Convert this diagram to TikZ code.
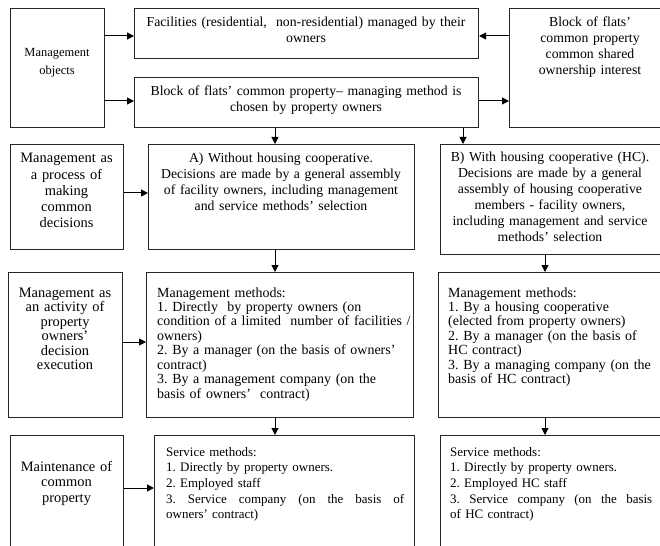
\documentclass[tikz,border=0pt]{standalone}
\usepackage{fontspec}
\setmainfont{Liberation Serif}
\usetikzlibrary{arrows.meta}
\frenchspacing
\begin{document}
\begin{tikzpicture}[x=1bp,y=-1bp,
  bx/.style={draw=black!85, line width=1.1bp, inner sep=0pt, anchor=north west},
  tx/.style={inner sep=0pt, font=\fontsize{13.8}{16}\selectfont},
  tc/.style={tx, align=center, anchor=base},
  tl/.style={tx, align=left, anchor=base west},
  arr/.style={line width=1bp, -{Triangle[length=7bp,width=7bp]}}]
\useasboundingbox (0,0) rectangle (660,546);
\clip (0,0) rectangle (660,546);
% boxes
\node[bx, minimum width=94bp, minimum height=119bp] (mo) at (10,8) {};
\node[bx, minimum width=344bp, minimum height=50bp] (fac) at (134,8) {};
\node[bx, minimum width=344bp, minimum height=50bp] (blk) at (134,77) {};
\node[bx, minimum width=162bp, minimum height=119bp] (rt) at (509,8) {};
\node[bx, minimum width=113bp, minimum height=105bp] (proc) at (10,144) {};
\node[bx, minimum width=266bp, minimum height=105bp] (A) at (148,144) {};
\node[bx, minimum width=221bp, minimum height=110bp] (B) at (440,144) {};
\node[bx, minimum width=114bp, minimum height=145bp] (act) at (8,272) {};
\node[bx, minimum width=267bp, minimum height=145bp] (mA) at (146,272) {};
\node[bx, minimum width=224bp, minimum height=145bp] (mB) at (438,272) {};
\node[bx, minimum width=113bp, minimum height=140bp] (mt) at (10,435) {};
\node[bx, minimum width=260bp, minimum height=140bp] (sA) at (154,435) {};
\node[bx, minimum width=222bp, minimum height=140bp] (sB) at (440,435) {};
% texts
\node[tc, text width=90bp, font=\fontsize{12.5}{18}\selectfont] (moT) at (57,57) {Management\\objects};
\node[tc, text width=340bp] (facT) at (306,27) {Facilities (residential,\ \ non-residential) managed by their\\owners};
\node[tc, text width=340bp] (blkT) at (306,96) {Block of flats’ common property– managing method is\\chosen by property owners};
\node[tc, text width=158bp] (rtT) at (590,27) {Block of flats’\\common property\\common shared\\ownership interest};
\node[tc, text width=112bp, font=\fontsize{14.5}{16.3}\selectfont] (procT) at (66.5,163) {Management as\\a process of\\making\\common\\decisions};
\node[tc, text width=264bp] (AT) at (281,163) {A) Without housing cooperative.\\Decisions are made by a general assembly\\of facility owners, including management\\and service methods’ selection};
\node[tc, text width=220bp] (BT) at (550,162) {B) With housing cooperative (HC).\\Decisions are made by a general\\assembly of housing cooperative\\members - facility owners,\\including management and service\\methods’ selection};
\node[tc, text width=112bp, font=\fontsize{14.5}{14.6}\selectfont] (actT) at (65,297) {Management as\\an activity of\\property\\owners’\\decision\\execution};
\node[tl, text width=262bp, font=\fontsize{14}{14.5}\selectfont] (mAT) at (157,297) {Management methods:\\1. Directly\ \ by property owners (on\\condition of a limited\ \ number of facilities /\\owners)\\2. By a manager (on the basis of owners’\\contract)\\3. By a management company (on the\\basis of owners’\ \ contract)};
\node[tl, text width=216bp, font=\fontsize{14}{14.5}\selectfont] (mBT) at (448,297) {Management methods:\\1. By a housing cooperative\\(elected from property owners)\\2. By a manager (on the basis of\\HC contract)\\3. By a managing company (on the\\basis of HC contract)};
\node[tc, text width=112bp, font=\fontsize{14.5}{16}\selectfont] (mtT) at (66.5,471) {Maintenance of\\common\\property};
\node[tl, text width=238bp, font=\fontsize{13}{15.8}\selectfont] (sAT) at (166,456) {Service methods:\\1. Directly by property owners.\\2. Employed staff\\\makebox[238bp][s]{3.\hfill Service\hfill company\hfill (on\hfill the\hfill basis\hfill of}\\owners’ contract)};
\node[tl, text width=202bp, font=\fontsize{13}{15.8}\selectfont] (sBT) at (450,456) {Service methods:\\1. Directly by property owners.\\2. Employed HC staff\\\makebox[202bp][s]{3.\hfill Service\hfill company\hfill (on\hfill the\hfill basis}\\of HC contract)};
% connectors
\coordinate (xa) at (275,0);
\coordinate (xb) at (463,0);
\coordinate (xc) at (545,0);
\coordinate (y1) at (0,36);
\coordinate (y2) at (0,101);
\coordinate (y3) at (0,193);
\coordinate (y4) at (0,342);
\coordinate (y5) at (0,488);
\draw[arr] (mo.east |- y1) -- (fac.west |- y1);
\draw[arr] (rt.west |- y1) -- (fac.east |- y1);
\draw[arr] (mo.east |- y2) -- (blk.west |- y2);
\draw[arr] (blk.east |- y2) -- (rt.west |- y2);
\draw[arr] (xa |- blk.south) -- (xa |- A.north);
\draw[arr] (xb |- blk.south) -- (xb |- B.north);
\draw[arr] (proc.east |- y3) -- (A.west |- y3);
\draw[arr] (xa |- A.south) -- (xa |- mA.north);
\draw[arr] (xc |- B.south) -- (xc |- mB.north);
\draw[arr] (act.east |- y4) -- (mA.west |- y4);
\draw[arr] (xa |- mA.south) -- (xa |- sA.north);
\draw[arr] (xc |- mB.south) -- (xc |- sB.north);
\draw[arr] (mt.east |- y5) -- (sA.west |- y5);
\end{tikzpicture}
\end{document}
